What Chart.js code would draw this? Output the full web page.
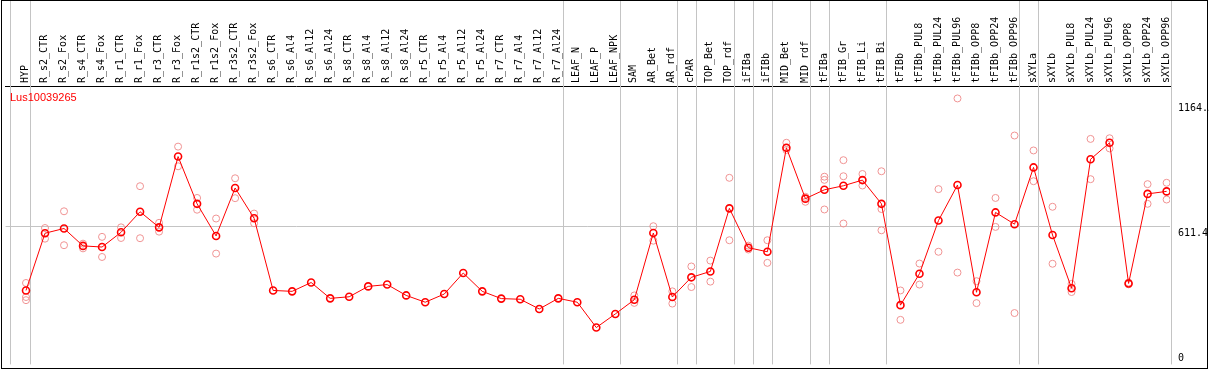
<!DOCTYPE html>
<html>
<head>
<meta charset="utf-8">
<script src="https://cdn.jsdelivr.net/npm/chart.js@4"></script>
<style>
body{margin:0;background:#fff;}
canvas{display:block;background:#fff;}
</style>
</head>
<body>
<canvas id="chart" width="1209" height="370"></canvas>
<script>

const geneName='Lus10039265';

const categories=['HYP','R_s2_CTR','R_s2_Fox','R_s4_CTR','R_s4_Fox','R_r1_CTR','R_r1_Fox','R_r3_CTR','R_r3_Fox',
'R_r1s2_CTR','R_r1s2_Fox','R_r3s2_CTR','R_r3s2_Fox','R_s6_CTR','R_s6_Al4','R_s6_Al12','R_s6_Al24',
'R_s8_CTR','R_s8_Al4','R_s8_Al12','R_s8_Al24','R_r5_CTR','R_r5_Al4','R_r5_Al12','R_r5_Al24',
'R_r7_CTR','R_r7_Al4','R_r7_Al12','R_r7_Al24','LEAF_N','LEAF_P','LEAF_NPK','SAM','AR_Bet','AR_rdf',
'cPAR','TOP_Bet','TOP_rdf','iFIBa','iFIBb','MID_Bet','MID_rdf','tFIBa','tFIB_Gr','tFIB_Li','tFIB_Bi',
'tFIBb','tFIBb_PUL8','tFIBb_PUL24','tFIBb_PUL96','tFIBb_OPP8','tFIBb_OPP24','tFIBb_OPP96',
'sXYLa','sXYLb','sXYLb_PUL8','sXYLb_PUL24','sXYLb_PUL96','sXYLb_OPP8','sXYLb_OPP24','sXYLb_OPP96'];

const meanValues=[327,580,601,524,519,584,675,606,919,710,568,780,646,327,323,362,292,
299,345,353,305,275,311,404,323,291,288,245,292,275,163,223,286,581,298,
385,411,690,516,498,958,733,772,790,815,710,
262,401,636,793,319,672,620,
871,572,337,907,980,358,754,765];

const repA=[360,603,677,534,564,606,788,626,963,736,645,823,667,null,null,null,null,
null,null,null,null,null,null,null,null,null,null,null,null,null,null,null,305,611,323,
433,459,825,525,549,980,741,830,903,842,854,
327,446,775,1176,368,736,1012,
946,697,356,997,1000,362,797,803];

const repB=[298,556,527,513,475,559,558,587,876,684,490,735,624,null,null,null,null,
null,null,null,null,null,null,null,null,null,null,null,null,null,null,null,272,547,269,
342,366,549,508,449,948,719,816,832,791,687,
197,353,498,406,271,608,227,
810,445,320,819,955,354,710,729];

const repC=[284,null,null,null,null,null,null,null,null,null,null,null,null,null,null,null,null,
null,null,null,null,null,null,null,null,null,null,null,null,null,null,null,null,null,null,
null,null,null,null,null,null,null,685,623,null,593,
null,null,null,null,null,null,null,
null,null,null,null,null,null,null,null];

// group separators sit just right of the last sample of each group
const separators=[-0.84,0.23,28.23,31.23,34.23,35.23,37.23,38.23,39.23,41.23,42.23,45.23,52.23,53.23,60.23];

const yTicks=[0,611.4,1164.5];
const yTickLabels=['0','611.4','1164.5'];

// pixel column of the first and last sample in the picture
const firstPx=26, lastPx=1166.6;

const toPoints=arr=>arr.map((v,i)=>v===null?null:{x:i,y:v}).filter(p=>p);

const monoFont='"DejaVu Sans Mono", monospace';

const decor={
id:'decor',
beforeDatasetsDraw(chart){
const c=chart.ctx, x=chart.scales.x, area=chart.chartArea;
c.save();
c.strokeStyle='#c4c4c4';
c.lineWidth=1;
separators.forEach(s=>{
const px=Math.round(x.getPixelForValue(s))+0.5;
c.beginPath();
c.moveTo(px,0);
c.lineTo(px,area.bottom);
c.stroke();
});
c.restore();
},
afterDraw(chart){
const c=chart.ctx, y=chart.scales.y, area=chart.chartArea;
c.save();
c.font='10px '+monoFont;
c.fillStyle='#000';
c.textAlign='left';
yTicks.forEach((v,i)=>{
const py=y.getPixelForValue(v);
if(v===0){
c.textBaseline='bottom';
c.fillText(yTickLabels[i],area.right+8,py-1);
}else{
c.textBaseline='top';
c.fillText(yTickLabels[i],area.right+8,py+2);
}
});
c.font='11px "Liberation Sans", Arial, sans-serif';
c.fillStyle='#ff0000';
c.textBaseline='alphabetic';
c.fillText(geneName,10,area.top+15);
c.strokeStyle='#000';
c.lineWidth=1;
c.strokeRect(1.5,0.5,1206,368);
c.restore();
}
};

const ctx=document.getElementById('chart');

const chart=new Chart(ctx,{
type:'line',
data:{
datasets:[{
label:'mean',
data:toPoints(meanValues),
borderColor:'#ff0000',
borderWidth:1,
pointRadius:3.5,
pointBorderWidth:1.6,
pointBackgroundColor:'rgba(0,0,0,0)',
pointBorderColor:'#ff0000',
tension:0,
order:0
},{
label:'rep1',
data:toPoints(repA),
showLine:false,
pointRadius:3.5,
pointBorderWidth:1,
pointBorderColor:'#f09393',
pointBackgroundColor:'rgba(0,0,0,0)',
order:1
},{
label:'rep2',
data:toPoints(repB),
showLine:false,
pointRadius:3.5,
pointBorderWidth:1,
pointBorderColor:'#f09393',
pointBackgroundColor:'rgba(0,0,0,0)',
order:1
},{
label:'rep3',
data:toPoints(repC),
showLine:false,
pointRadius:3.5,
pointBorderWidth:1,
pointBorderColor:'#f09393',
pointBackgroundColor:'rgba(0,0,0,0)',
order:1
}]
},
options:{
responsive:false,
devicePixelRatio:1,
animation:false,
layout:{padding:{left:2,right:0,top:0,bottom:1}},
plugins:{legend:{display:false},tooltip:{enabled:false}},
scales:{
x:{
type:'linear',
position:'top',
min:-1.2625,
max:60.18,
afterBuildTicks(scale){
scale.ticks=categories.map((c,i)=>({value:i}));
},
afterFit(scale){
scale.height=86;
scale.paddingLeft=0;
scale.paddingRight=0;
},
ticks:{
autoSkip:false,
minRotation:90,
maxRotation:90,
padding:3,
labelOffset:11.5,
color:'#000',
font:{family:monoFont,size:10},
callback:(v,i)=>categories[i]
},
grid:{display:false,drawTicks:false},
border:{display:true,color:'#000',width:1}
},
y:{
type:'linear',
position:'right',
min:0,
max:1231,
afterBuildTicks(scale){
scale.ticks=yTicks.map(v=>({value:v}));
},
afterFit(scale){
scale.width=39;
},
ticks:{display:false},
grid:{
drawTicks:false,
color:c=>c.tick&&c.tick.value===611.4?'#c4c4c4':'rgba(0,0,0,0)'
},
border:{display:false}
}
}
},
plugins:[decor]
});

// fit the x range so samples land on the same columns as the original
const area=chart.chartArea;
const step=(lastPx-firstPx)/(categories.length-1);
chart.options.scales.x.min=-(firstPx-area.left)/step;
chart.options.scales.x.max=(categories.length-1)+(area.right-lastPx)/step;
chart.update();

</script>
</body>
</html>
